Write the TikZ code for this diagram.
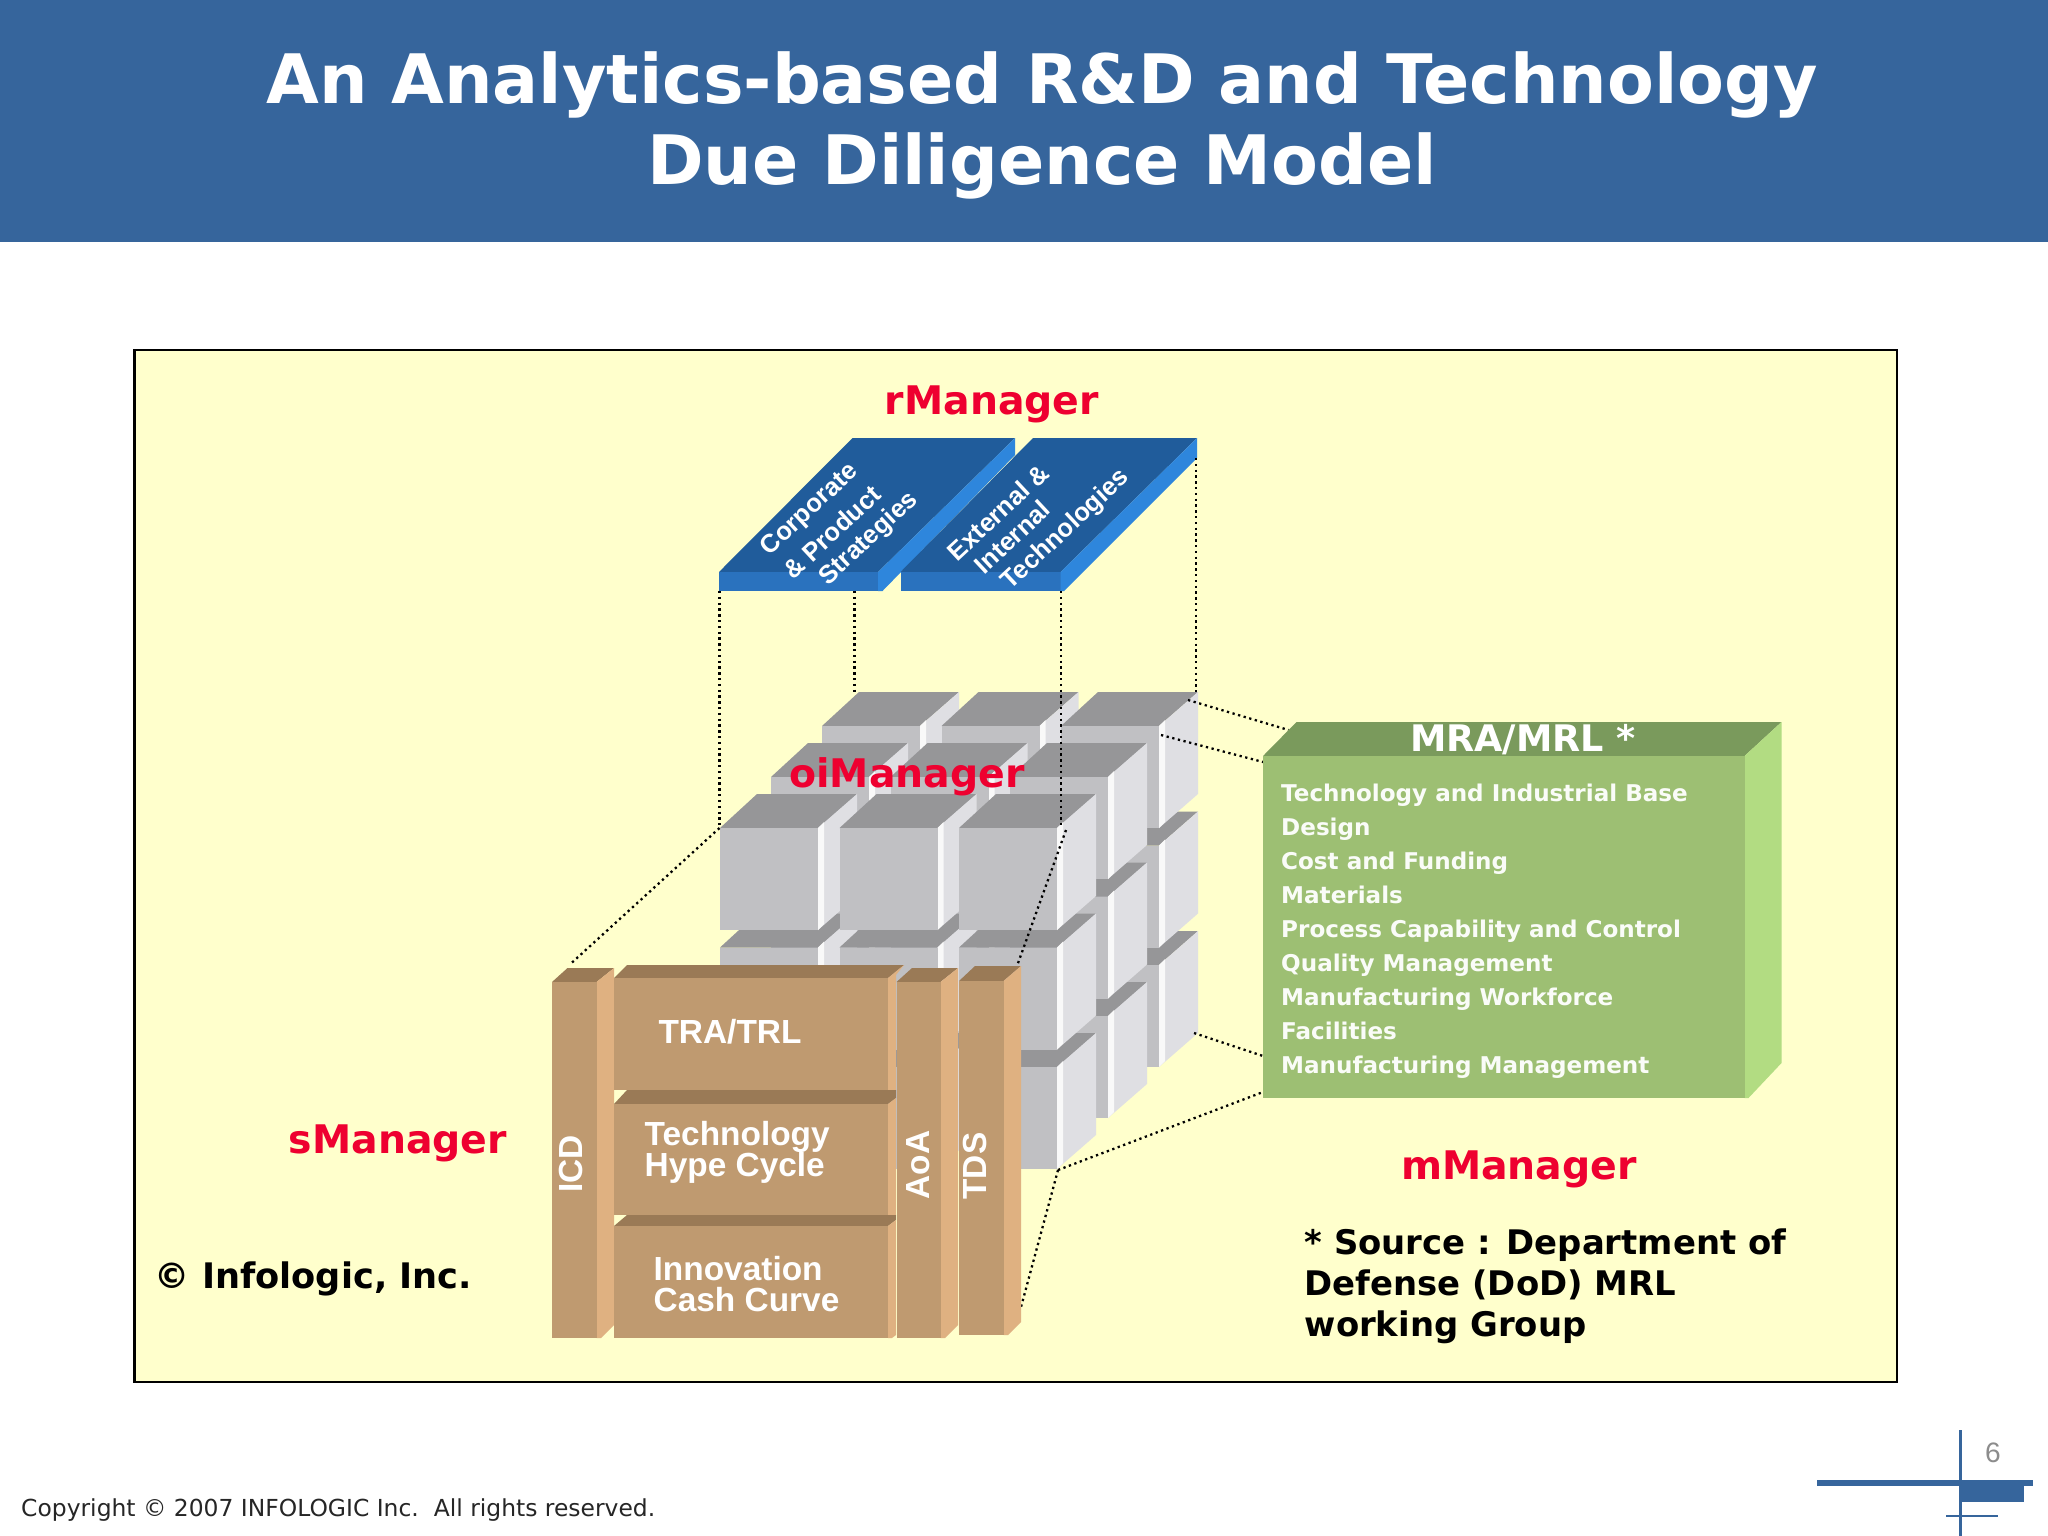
\documentclass[tikz,border=0pt]{standalone}
\usepackage{fontspec}
\setmainfont{DejaVu Sans}
\newfontfamily\arialfont{Liberation Sans}
\definecolor{headblue}{HTML}{36659C}
\definecolor{panelyellow}{HTML}{FFFFCC}
\definecolor{mgrred}{HTML}{EE0030}
\definecolor{cubetop}{HTML}{969698}
\definecolor{cubefront}{HTML}{C0C0C3}
\definecolor{cubeside}{HTML}{DFDFE3}
\definecolor{planetop}{HTML}{205C9B}
\definecolor{planefront}{HTML}{2A72BE}
\definecolor{planeside}{HTML}{2E86DC}
\definecolor{browntop}{HTML}{9A7A56}
\definecolor{brownfront}{HTML}{BF9A70}
\definecolor{brownside}{HTML}{DFB181}
\definecolor{greentop}{HTML}{7A9A5C}
\definecolor{greenfront}{HTML}{9DBF73}
\definecolor{greenside}{HTML}{B2DC82}
% one grey cube: #1 left edge, #2 top edge of the front face
\newcommand{\gridcube}[2]{
\fill [cubetop] (#1,-#2) -- ({#1+37},{-#2+34}) -- ({#1+137},{-#2+34}) -- ({#1+98},-#2) -- cycle;
\fill [cubeside] ({#1+98},-#2) -- ({#1+137},{-#2+34}) -- ({#1+137},{-#2-68}) -- ({#1+98},{-#2-102}) -- cycle;
\fill [white!80!cubeside] ({#1+98},-#2) -- ({#1+104},{-#2+6}) -- ({#1+104},{-#2-96}) -- ({#1+98},{-#2-102}) -- cycle;
\fill [cubefront] (#1,-#2) rectangle ({#1+98},{-#2-102});
}
\begin{document}
\begin{tikzpicture}[x=0.01cm,y=0.01cm]
\tikzstyle{every node}+=[inner sep=0pt]
\tikzstyle{link}=[black,densely dotted,line width=0.65pt]
\tikzstyle{mgr}=[text=mgrred,font=\bfseries\fontsize{11.2}{13}\selectfont]
\tikzstyle{black label}=[text=black,anchor=base west,font=\bfseries\fontsize{10}{11}\selectfont]
\tikzstyle{arial label}=[text=white,font=\arialfont\bfseries\fontsize{9.5}{9.2}\selectfont]
\tikzstyle{plane label}=[text=white,rotate=43,font=\arialfont\bfseries\fontsize{7.3}{8.6}\selectfont]
\useasboundingbox (0,0) rectangle (2048,-1536);
\fill [white] (0,0) rectangle (2048,-1536);
% header
\fill [headblue] (0,0) rectangle (2048,-242);
\node (title) [text=white,align=center,font=\bfseries\fontsize{19.4}{23}\selectfont] at (1042,-125)
 {An Analytics-based R\&D and Technology\\Due Diligence Model};
% yellow panel
\draw [black,line width=0.75pt,fill=panelyellow] (134.5,-350) rectangle (1897,-1382);
% blue planes
\fill [planetop] (852.5,-438) -- (1015,-438) -- (878,-572) -- (719,-572) -- cycle;
\fill [planefront] (719,-572) rectangle (878,-591);
\fill [planeside] (878,-572) -- (1015,-438) -- (1015,-455) -- (882.5,-591) -- (878,-591) -- cycle;
\fill [planetop] (1033,-438) -- (1197,-438) -- (1060.5,-572) -- (900.5,-572) -- cycle;
\fill [planefront] (900.5,-572) rectangle (1060.5,-591);
\fill [planeside] (1060.5,-572) -- (1197,-438) -- (1197,-458) -- (1064,-591) -- (1060.5,-591) -- cycle;
\node (corp) [plane label] at (810,-510) {Corporate};
\node (prod) [plane label] at (832,-532) {\& Product};
\node (strat) [plane label] at (869,-539) {Strategies};
\node (extn) [plane label] at (998,-512) {External \&};
\node (intn) [plane label] at (1012,-537) {Internal};
\node (tech) [plane label] at (1066,-530) {Technologies};
% grey cubes, back to front
\foreach \d in {2,1,0}
 \foreach \l in {2,1,0}
  \foreach \c in {0,1,2} {
   \pgfmathsetmacro{\cx}{720+119.5*\c+51*\d}
   \pgfmathsetmacro{\cy}{828+119.5*\l-51*\d}
   \gridcube{\cx}{\cy}
  }
% dotted links
\coordinate (pa) at (719.5,-591);
\coordinate (pb) at (854.5,-591);
\coordinate (pc) at (1060.7,-591);
\coordinate (pd) at (1196,-458);
\coordinate (ca) at (719.5,-828);
\coordinate (cb) at (854.5,-693);
\coordinate (cc) at (1060.7,-828);
\coordinate (cd) at (1196,-693);
\coordinate (ce) at (1066,-830);
\coordinate (cf) at (1058,-1170);
\coordinate (cg) at (1188,-700);
\coordinate (ch) at (1161,-735);
\coordinate (ci) at (1194,-1033);
\coordinate (sa) at (571.5,-963);
\coordinate (sb) at (1017,-966);
\coordinate (sc) at (1021,-1307);
\coordinate (ma) at (1288.5,-730);
\coordinate (mb) at (1263,-762);
\coordinate (mc) at (1263,-1056);
\coordinate (md) at (1263,-1092);
\draw [link] (pa) -- (ca);
\draw [link] (pb) -- (cb);
\draw [link] (pc) -- (cc);
\draw [link] (pd) -- (cd);
\draw [link] (ca) -- (sa);
\draw [link] (ce) -- (sb);
\draw [link] (cf) -- (sc);
\draw [link] (cf) -- (md);
\draw [link] (cg) -- (ma);
\draw [link] (ch) -- (mb);
\draw [link] (ci) -- (mc);
% brown blocks
\fill [browntop] (552,-982) -- (567.5,-968) -- (614,-968) -- (596.5,-982) -- cycle;
\fill [brownside] (596.5,-982) -- (614,-968) -- (614,-1325) -- (601,-1338) -- (596.5,-1338) -- cycle;
\fill [brownfront] (552,-982) rectangle (596.5,-1338);
\fill [browntop] (614,-978) -- (627,-965) -- (904,-965) -- (888,-978) -- cycle;
\fill [brownside] (888,-978) -- (904,-965) -- (896,-975) -- (896,-1090) -- (888,-1090) -- cycle;
\fill [brownfront] (614,-978) rectangle (888,-1090);
\fill [browntop] (614,-1104) -- (627,-1090) -- (896,-1090) -- (896,-1098) -- (888,-1104) -- cycle;
\fill [brownside] (888,-1104) -- (896,-1098) -- (896,-1215) -- (888,-1215) -- cycle;
\fill [brownfront] (614,-1104) rectangle (888,-1215);
\fill [browntop] (614,-1226) -- (627,-1215) -- (896,-1215) -- (896,-1220) -- (888,-1226) -- cycle;
\fill [brownside] (888,-1226) -- (896,-1220) -- (896,-1335) -- (892,-1338) -- (888,-1338) -- cycle;
\fill [brownfront] (614,-1226) rectangle (888,-1338);
\fill [browntop] (896.5,-982) -- (912,-968) -- (958,-968) -- (940.5,-982) -- cycle;
\fill [brownside] (940.5,-982) -- (958,-968) -- (958,-1325) -- (945,-1338) -- (940.5,-1338) -- cycle;
\fill [brownfront] (896.5,-982) rectangle (940.5,-1338);
\fill [browntop] (959,-981) -- (975,-966) -- (1021,-966) -- (1003.5,-981) -- cycle;
\fill [brownside] (1003.5,-981) -- (1021,-966) -- (1021,-1322) -- (1008,-1335) -- (1003.5,-1335) -- cycle;
\fill [brownfront] (959,-981) rectangle (1003.5,-1335);
\node (tra) [arial label] at (730,-1032) {TRA/TRL};
\node (hype) [arial label,anchor=west,align=left] at (644,-1152.5) {Technology\\[-0.2pt]Hype Cycle};
\node (cash) [arial label,anchor=west,align=left] at (653,-1284) {Innovation\\[-0.2pt]Cash Curve};
\node (icd) [arial label,rotate=90] at (571,-1164) {ICD};
\node (aoa) [arial label,rotate=90] at (918,-1165) {AoA};
\node (tds) [arial label,rotate=90] at (975,-1166) {TDS};
% green block
\fill [greentop] (1263,-756) -- (1296.5,-722) -- (1781.5,-722) -- (1744.5,-756) -- cycle;
\fill [greenside] (1744.5,-756) -- (1781.5,-722) -- (1781.5,-1063) -- (1748.5,-1098) -- (1744.5,-1098) -- cycle;
\fill [greenfront] (1263,-756) rectangle (1744.5,-1098);
\node (mra) [text=white,font=\bfseries\fontsize{10.4}{12}\selectfont] at (1523,-740) {MRA/MRL *};
\foreach \txt [count=\i] in {Technology and Industrial Base,Design,Cost and Funding,Materials,Process Capability and Control,Quality Management,Manufacturing Workforce,Facilities,Manufacturing Management}
 \node (row\i) [text=white!95!greenfront,anchor=base west,font=\bfseries\fontsize{6.56}{8}\selectfont] at (1280.5,{-801.5-34*(\i-1)}) {\txt};
% labels
\node (rmgr) [mgr] at (992,-404.5) {rManager};
\node (oimgr) [mgr] at (907,-776.5) {oiManager};
\node (smgr) [mgr] at (398,-1143.5) {sManager};
\node (mmgr) [mgr] at (1519,-1169.5) {mManager};
\node (inf) [black label] at (154,-1288) {\textcopyright{} Infologic, Inc.};
\node (src) [black label,align=left,anchor=north west,font=\bfseries\fontsize{9.63}{11.6}\selectfont] at (1304,-1228) {* Source : Department of\\Defense (DoD) MRL\\working Group};
% footer
\node (copy) [anchor=base west,text=black!85,font=\fontsize{6.66}{8}\selectfont] at (20.5,-1516) {Copyright \textcopyright{} 2007 INFOLOGIC Inc.\ \ All rights reserved.};
\node (page) [text=black!45,font=\arialfont\fontsize{8}{9}\selectfont] at (1993,-1453) {6};
\fill [headblue] (1958.5,-1430) rectangle (1961.5,-1536);
\fill [headblue] (1817,-1479.5) rectangle (2033,-1485.5);
\fill [headblue] (1960,-1485) rectangle (2024,-1502);
\fill [headblue] (1946,-1514.5) rectangle (1998,-1516.5);
\end{tikzpicture}
\end{document}
